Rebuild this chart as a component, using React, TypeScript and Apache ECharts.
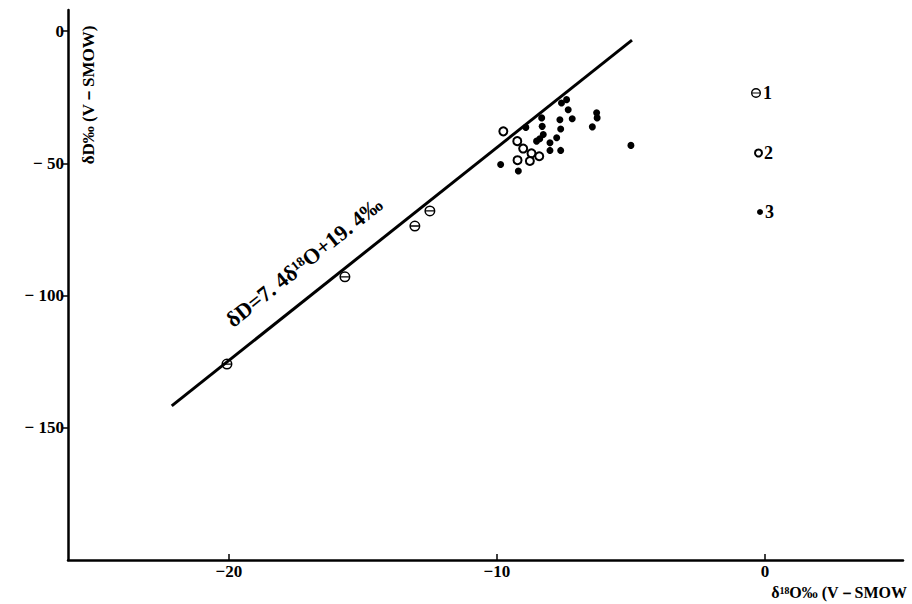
import React, { useEffect, useRef } from "react";
import * as echarts from "echarts";

// Tick values
const xTicks = [-20, -10, 0];
const yTicks = [0, -50, -100, -150];

// Series 1: samples on the meteoric line (theta symbol)
const lineSamples: number[][] = [
  [-20.07, -125.9],
  [-15.67, -92.9],
  [-13.06, -73.7],
  [-12.5, -68.0],
];

// Series 2: open circles
const openSamples: number[][] = [
  [-9.76, -37.9],
  [-9.24, -41.6],
  [-9.02, -44.4],
  [-8.71, -46.2],
  [-8.42, -47.3],
  [-9.23, -48.8],
  [-8.77, -49.1],
];

// Series 3: filled dots
const filledSamples: number[][] = [
  [-8.92, -36.4],
  [-8.33, -32.8],
  [-8.31, -36.0],
  [-8.02, -42.2],
  [-7.77, -40.3],
  [-7.62, -37.0],
  [-7.65, -33.5],
  [-7.34, -29.7],
  [-7.59, -27.2],
  [-7.4, -25.9],
  [-7.19, -33.1],
  [-8.02, -45.1],
  [-7.62, -45.1],
  [-9.2, -52.9],
  [-9.86, -50.4],
  [-6.28, -30.9],
  [-6.26, -32.8],
  [-6.44, -36.2],
  [-5.0, -43.2],
  [-8.52, -41.6],
  [-8.4, -40.7],
  [-8.27, -39.1],
];

// Fitted line endpoints
const fitLine: number[][] = [
  [-22.13, -141.7],
  [-4.96, -3.4],
];

const legendNames = ["1", "2", "3"];

const FONT = "'Liberation Serif', 'DejaVu Serif', serif";

const thetaPath =
  "path://M5,0 A5,5 0 1,1 5,10 A5,5 0 1,1 5,0 Z M5,1.4 A3.6,3.6 0 1,0 5,8.6 A3.6,3.6 0 1,0 5,1.4 Z M1.5,4.4 L8.5,4.4 L8.5,5.6 L1.5,5.6 Z";

export default function App() {
  const ref = useRef<HTMLDivElement>(null);

  useEffect(() => {
    if (!ref.current) return;
    const chart = echarts.init(ref.current, undefined, { renderer: "svg" });
    const fmtY = (v: number) => (v === 0 ? "0" : "− " + Math.abs(v));
    const fmtX = (v: number) => (v === 0 ? "0" : "−" + Math.abs(v));
    const legendBase = {
      orient: "vertical" as const,
      padding: 0,
      itemGap: 4,
      textStyle: { fontFamily: FONT, fontSize: 18, fontWeight: "bold" as const, color: "#000", padding: [0, 0, 0, -3] },
      selectedMode: false,
    };
    chart.setOption({
      animation: false,
      backgroundColor: "#fff",
      grid: { left: 68, right: 9, top: 10, bottom: 44 },
      legend: [
        { ...legendBase, left: 751, top: 84, itemWidth: 10, itemHeight: 10, data: [legendNames[0]] },
        { ...legendBase, left: 754, top: 144, itemWidth: 7, itemHeight: 7, data: [legendNames[1]] },
        { ...legendBase, left: 757, top: 203, itemWidth: 6, itemHeight: 6, data: [legendNames[2]] },
      ],
      xAxis: {
        type: "value",
        min: -26,
        max: 5.15,
        splitLine: { show: false },
        axisLine: { onZero: false, lineStyle: { color: "#000", width: 2.5 } },
        axisTick: { show: true, inside: true, length: 6, customValues: xTicks, lineStyle: { color: "#000", width: 1.5 } },
        axisLabel: {
          customValues: xTicks,
          formatter: fmtX,
          color: "#000",
          fontFamily: FONT,
          fontSize: 17,
          fontWeight: "bold",
          margin: 3,
        },
      },
      yAxis: {
        type: "value",
        min: -200,
        max: 8,
        splitLine: { show: false },
        axisLine: { onZero: false, lineStyle: { color: "#000", width: 2.5 } },
        axisTick: { show: true, inside: false, length: 5, customValues: yTicks, lineStyle: { color: "#000", width: 1.5 } },
        axisLabel: {
          customValues: yTicks,
          formatter: fmtY,
          color: "#000",
          fontFamily: FONT,
          fontSize: 17,
          fontWeight: "bold",
          margin: 4,
        },
      },
      graphic: [
        {
          type: "text",
          x: 88,
          y: 95,
          rotation: Math.PI / 2,
          style: {
            text: "δD‰ (V－SMOW)",
            fontFamily: FONT,
            fontSize: 17,
            fontWeight: "bold",
            fill: "#000",
            align: "center",
            verticalAlign: "middle",
          },
        },
        {
          type: "text",
          x: 907,
          y: 592,
          style: {
            text: "δ¹⁸O‰ (V－SMOW",
            fontFamily: FONT,
            fontSize: 16,
            fontWeight: "bold",
            fill: "#000",
            align: "right",
            verticalAlign: "middle",
          },
        },
        {
          type: "text",
          x: 304,
          y: 262,
          rotation: 0.675,
          style: {
            text: "δD=7. 4δ¹⁸O+19. 4‰",
            fontFamily: FONT,
            fontSize: 22,
            fontWeight: "bold",
            fill: "#000",
            align: "center",
            verticalAlign: "middle",
          },
        },
      ],
      series: [
        {
          type: "line",
          data: fitLine,
          showSymbol: false,
          silent: true,
          lineStyle: { color: "#000", width: 3 },
          z: 1,
        },
        {
          name: legendNames[0],
          type: "scatter",
          data: lineSamples,
          symbol: thetaPath,
          symbolSize: 11,
          itemStyle: { color: "#000", opacity: 1 },
          z: 3,
        },
        {
          name: legendNames[1],
          type: "scatter",
          data: openSamples,
          symbol: "emptyCircle",
          symbolSize: 8,
          itemStyle: { color: "#000", borderColor: "#000", borderWidth: 2, opacity: 1 },
          z: 3,
        },
        {
          name: legendNames[2],
          type: "scatter",
          data: filledSamples,
          symbol: "circle",
          symbolSize: 7,
          itemStyle: { color: "#000", opacity: 1 },
          z: 3,
        },
      ],
    });
    return () => chart.dispose();
  }, []);

  return <div ref={ref} style={{ width: 912, height: 604, position: "absolute", left: 0, top: 0 }} />;
}
